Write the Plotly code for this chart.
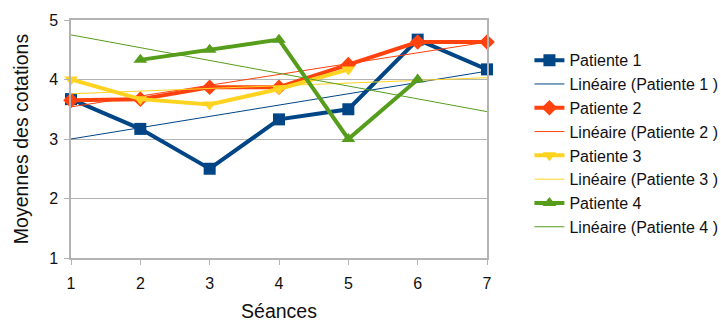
import plotly.graph_objects as go

seances = [1, 2, 3, 4, 5, 6, 7]
patiente1 = [3.67, 3.17, 2.5, 3.33, 3.5, 4.67, 4.17]
patiente2 = [3.65, 3.67, 3.87, 3.87, 4.25, 4.63, 4.63]
patiente3 = [4.0, 3.67, 3.58, 3.84, 4.17, None, None]
patiente4 = [None, 4.33, 4.5, 4.67, 3.0, 4.0, None]

# Linear trend line values read at séances 1 and 7
trend_x = [1, 7]
trend1 = [3.0, 4.14]
trend2 = [3.54, 4.63]
trend3 = [3.76, 4.03]
trend4 = [4.75, 3.46]

names = ["Patiente 1", "Patiente 2", "Patiente 3", "Patiente 4"]
colors = ["#004586", "#ff420e", "#ffd320", "#579d1c"]
symbols = ["square", "diamond", "triangle-down", "triangle-up"]
series = [patiente1, patiente2, patiente3, patiente4]
trends = [trend1, trend2, trend3, trend4]

fig = go.Figure()
for name, col, sym, ys, tr in zip(names, colors, symbols, series, trends):
    fig.add_trace(go.Scatter(
        x=seances, y=ys, name=name, mode="lines+markers",
        line=dict(color=col, width=4),
        marker=dict(symbol=sym, size=12, color=col),
        cliponaxis=False, connectgaps=False,
    ))
    fig.add_trace(go.Scatter(
        x=trend_x, y=tr, name="Linéaire (" + name + " )", mode="lines",
        line=dict(color=col, width=1),
    ))

fig.update_layout(
    width=721, height=322,
    margin=dict(l=71, r=234, t=20, b=64, autoexpand=False),
    paper_bgcolor="white", plot_bgcolor="white",
    font=dict(family="Liberation Sans, Arial, sans-serif", size=16, color="#222222"),
    showlegend=True,
    legend=dict(x=1.102, y=0.48, xanchor="left", yanchor="middle",
                font=dict(size=16, color="#111111"),
                bgcolor="rgba(0,0,0,0)", tracegroupgap=0),
    xaxis=dict(
        range=[1, 7], tickvals=seances, ticktext=[str(s) for s in seances],
        showgrid=False, showline=True, linecolor="#b3b3b3", linewidth=1.5, mirror=True,
        ticks="outside", ticklen=5, tickcolor="#b3b3b3", ticklabelstandoff=5,
        tickfont=dict(size=16, color="#111111"),
        title=dict(text="Séances", font=dict(size=19.5, color="#111111"), standoff=16),
        zeroline=False,
    ),
    yaxis=dict(
        range=[1, 5], tickvals=[1, 2, 3, 4, 5],
        showgrid=True, gridcolor="#b3b3b3", gridwidth=1,
        showline=True, linecolor="#b3b3b3", linewidth=1.5, mirror=True,
        ticks="outside", ticklen=5, tickcolor="#b3b3b3", ticklabelstandoff=3,
        tickfont=dict(size=16, color="#111111"),
        title=dict(text="Moyennes des cotations", font=dict(size=19.5, color="#111111"), standoff=15),
        zeroline=False,
    ),
)

fig.write_html("out.html")
